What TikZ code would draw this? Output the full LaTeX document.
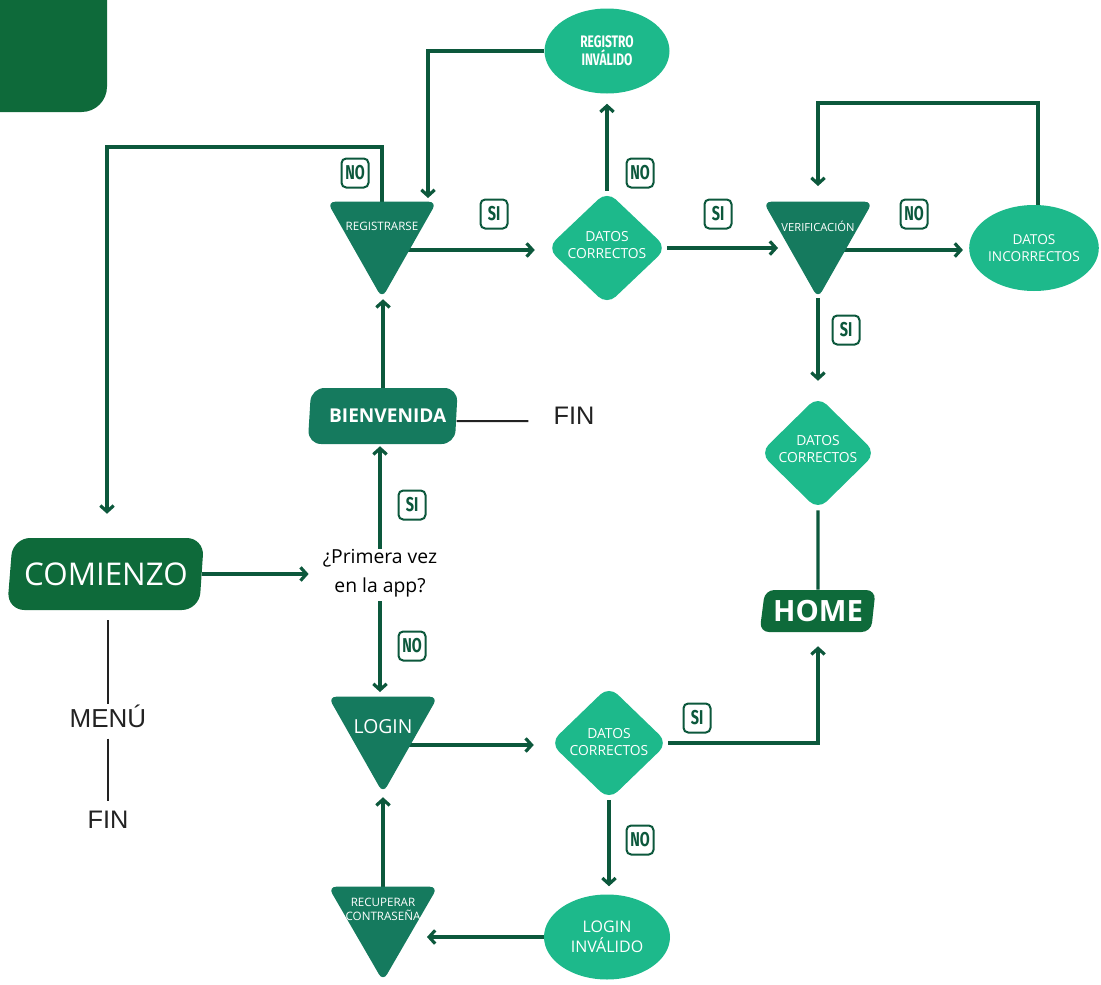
\documentclass[tikz,border=0pt]{standalone}
\usepackage{fontspec}
\setmainfont{Open Sans}
\newfontfamily\arialf{Liberation Sans}
\newfontfamily\condf[FakeStretch=0.72]{Fira Sans}
\usetikzlibrary{shapes.geometric,arrows.meta,calc}
\definecolor{dkgreen}{HTML}{0E6A3A}
\definecolor{midgreen}{HTML}{157A5E}
\definecolor{ltgreen}{HTML}{1DB98B}
\definecolor{conn}{HTML}{0C583C}
\definecolor{blk}{HTML}{222222}
\pgfdeclarelayer{bg}
\pgfsetlayers{bg,main}
\def\PX{0.75pt}
\begin{document}
\begin{tikzpicture}[x=0.75pt,y=-0.75pt,
  tri/.style={rectangle, minimum width=109*\PX, minimum height=96*\PX, inner sep=0pt},
  trifill/.style={fill=midgreen, rounded corners=6pt},
  dia/.style={diamond, fill=ltgreen, minimum width=118*\PX, minimum height=114*\PX, inner sep=0pt, rounded corners=9pt},
  ell/.style={ellipse, fill=ltgreen, inner sep=0pt, text=white, align=center},
  slant/.style={trapezium, trapezium left angle=76, trapezium right angle=102,
    trapezium stretches body=true, inner sep=0pt, text=white},
  wtext/.style={text=white, inner sep=0pt, align=center},
  tag/.style={draw=conn, line width=1.5pt, rounded corners=3.5pt, fill=white,
    minimum width=27*\PX, minimum height=29*\PX, inner sep=0pt, text=conn,
    font=\condf\bfseries\fontsize{15pt}{15pt}\selectfont},
  arr/.style={draw=conn, line width=2.4pt, -{Straight Barb[length=4.5pt,width=10pt]}},
  cline/.style={draw=conn, line width=2.4pt},
  kline/.style={draw=blk, line width=1.5pt},
  ktext/.style={text=blk, inner sep=0pt, font=\arialf\fontsize{19pt}{19pt}\selectfont}
]
\useasboundingbox (0,0) rectangle (1101,985);
\fill[dkgreen, rounded corners=19pt] (-40,-40) rectangle (107,112);

% start / end boxes
\node[slant, fill=dkgreen, minimum width=197*\PX, minimum height=72*\PX, rounded corners=13pt,
  font=\fontsize{23.5pt}{23.5pt}\selectfont] (com) at (106,574) {COMIENZO};
\node[inner sep=0pt, align=center, font=\fontsize{14.5pt}{21.75pt}\selectfont] (prim) at (380,573) {¿Primera vez\\en la app?};
\node[slant, fill=midgreen, minimum width=150*\PX, minimum height=56*\PX, rounded corners=10pt,
  font=\bfseries\fontsize{14.3pt}{14.3pt}\selectfont] (bien) at (383,416) {\hspace*{7pt}BIENVENIDA};
\node[ktext] (fin1) at (574,416) {FIN};
\node[slant, fill=dkgreen, minimum width=116*\PX, minimum height=42*\PX, rounded corners=7pt,
  font=\bfseries\fontsize{22pt}{22pt}\selectfont] (home) at (818,611) {HOME};
\node[ktext, font=\arialf\fontsize{19.5pt}{19.5pt}\selectfont] (menu) at (108,716) {MENÚ};
\node[ktext] (fin2) at (108,820) {FIN};

% triangles
\node[tri] (reg) at (382,250) {};
\node[tri] (ver) at (818,250) {};
\node[tri] (login) at (383,745) {};
\node[tri, minimum height=94*\PX] (rec) at (383,934) {};
\fill[trifill] (reg.north west) -- (reg.north east) -- (reg.south) -- cycle;
\fill[trifill] (ver.north west) -- (ver.north east) -- (ver.south) -- cycle;
\fill[trifill] (login.north west) -- (login.north east) -- (login.south) -- cycle;
\fill[trifill] (rec.north west) -- (rec.north east) -- (rec.south) -- cycle;
\node[wtext, font=\fontsize{8.7pt}{8.7pt}\selectfont] (regt) at (382,226) {REGISTRARSE};
\node[wtext, font=\fontsize{8.4pt}{8.4pt}\selectfont] (vert) at (818,226) {VERIFICACIÓN};
\node[wtext, font=\fontsize{14.5pt}{14.5pt}\selectfont] (logint) at (383,727) {LOGIN};
\node[wtext, font=\fontsize{8.7pt}{10.5pt}\selectfont] (rect) at (383,909) {RECUPERAR\\CONTRASEÑA};

% diamonds
\node[dia, minimum width=120*\PX] (dc1) at (607,248) {};
\node[wtext, font=\fontsize{10.4pt}{12.75pt}\selectfont] (dc1t) at (607,245) {DATOS\\CORRECTOS};
\node[dia, minimum width=116*\PX] (dc2) at (818,453) {};
\node[wtext, font=\fontsize{10.4pt}{12.75pt}\selectfont] (dc2t) at (818,449) {DATOS\\CORRECTOS};
\node[dia] (dc3) at (609,743) {};
\node[wtext, font=\fontsize{10.4pt}{12.75pt}\selectfont] (dc3t) at (609,742) {DATOS\\CORRECTOS};

% ellipses
\node[ell, minimum width=125*\PX, minimum height=85*\PX,
  font=\condf\bfseries\fontsize{12.5pt}{13.5pt}\selectfont] (reginv) at (607,51) {REGISTRO\\INVÁLIDO};
\node[ell, minimum width=128*\PX, minimum height=86*\PX,
  font=\fontsize{10.25pt}{12.75pt}\selectfont] (dcinc) at (1034,248) {DATOS\\INCORRECTOS};
\node[ell, minimum width=126*\PX, minimum height=85*\PX,
  font=\fontsize{12pt}{15pt}\selectfont] (loginv) at (607,937) {LOGIN\\INVÁLIDO};

% tags
\node[tag] (t1) at (355,173) {NO};
\node[tag] (t2) at (494,214) {SI};
\node[tag] (t3) at (640,173) {NO};
\node[tag] (t4) at (718,214) {SI};
\node[tag] (t5) at (914,214) {NO};
\node[tag] (t6) at (846,330) {SI};
\node[tag] (t7) at (412,505) {SI};
\node[tag] (t8) at (412,646) {NO};
\node[tag] (t9) at (697,718) {SI};
\node[tag] (t10) at (640,840) {NO};

\coordinate (c1) at (107,147);
\coordinate (c2) at (428,202);
\coordinate (c3) at (818,103);

\begin{pgfonlayer}{bg}
\draw[arr, shorten >=14*\PX] (com.east) -- (com.east -| prim.west);
\draw[arr, shorten >=2*\PX] (prim.north) -- (prim.north |- bien.south);
\draw[arr, shorten >=1*\PX] (bien.north) -- (bien.north |- reg.south);
\draw[kline] ($(bien.east)+(0,5)$) -- ($(fin1.west)+(-25,5)$);
\draw[arr, shorten >=24*\PX] (reg.center) |- (c1) -- (c1 |- com.north);
\draw[arr, shorten >=4*\PX] (reginv.west) -| (c2);
\draw[arr, shorten >=12*\PX] (reg.center) -- (reg.center -| dc1.west);
\draw[arr, shorten >=10*\PX] (dc1.north) -- (reginv.south);
\draw[arr, shorten >=40*\PX] (dc1.east) -- (dc1.east -| ver.center);
\draw[arr, shorten >=6*\PX] (ver.center) -- (ver.center -| dcinc.west);
\draw[arr, shorten >=64*\PX] ($(dcinc.north)+(4,0)$) |- (c3) -- (ver.center);
\draw[arr, shorten >=15*\PX] (ver.south) -- (dc2.north);
\draw[cline] (dc2.south) -- (home.north);
\draw[arr, shorten <=4*\PX, shorten >=53*\PX] (prim.south) -- (prim.south |- login.center);
\draw[arr, shorten >=16*\PX] (login.center) -- (login.center -| dc3.west);
\draw[arr, shorten >=14*\PX] (dc3.east) -| (home.south);
\draw[arr, shorten >=8*\PX] (dc3.south) -- (dc3.south |- loginv.north);
\draw[arr, shorten >=44*\PX] (loginv.west) -- (loginv.west -| rec.center);
\draw[arr, shorten >=4*\PX] (rec.north) -- (login.south);
\draw[kline, shorten <=10*\PX] (com.south -| menu.north) -- (menu.north);
\draw[kline, shorten <=11*\PX, shorten >=10*\PX] (menu.south) -- (menu.south |- fin2.north);
\end{pgfonlayer}
\end{tikzpicture}
\end{document}
